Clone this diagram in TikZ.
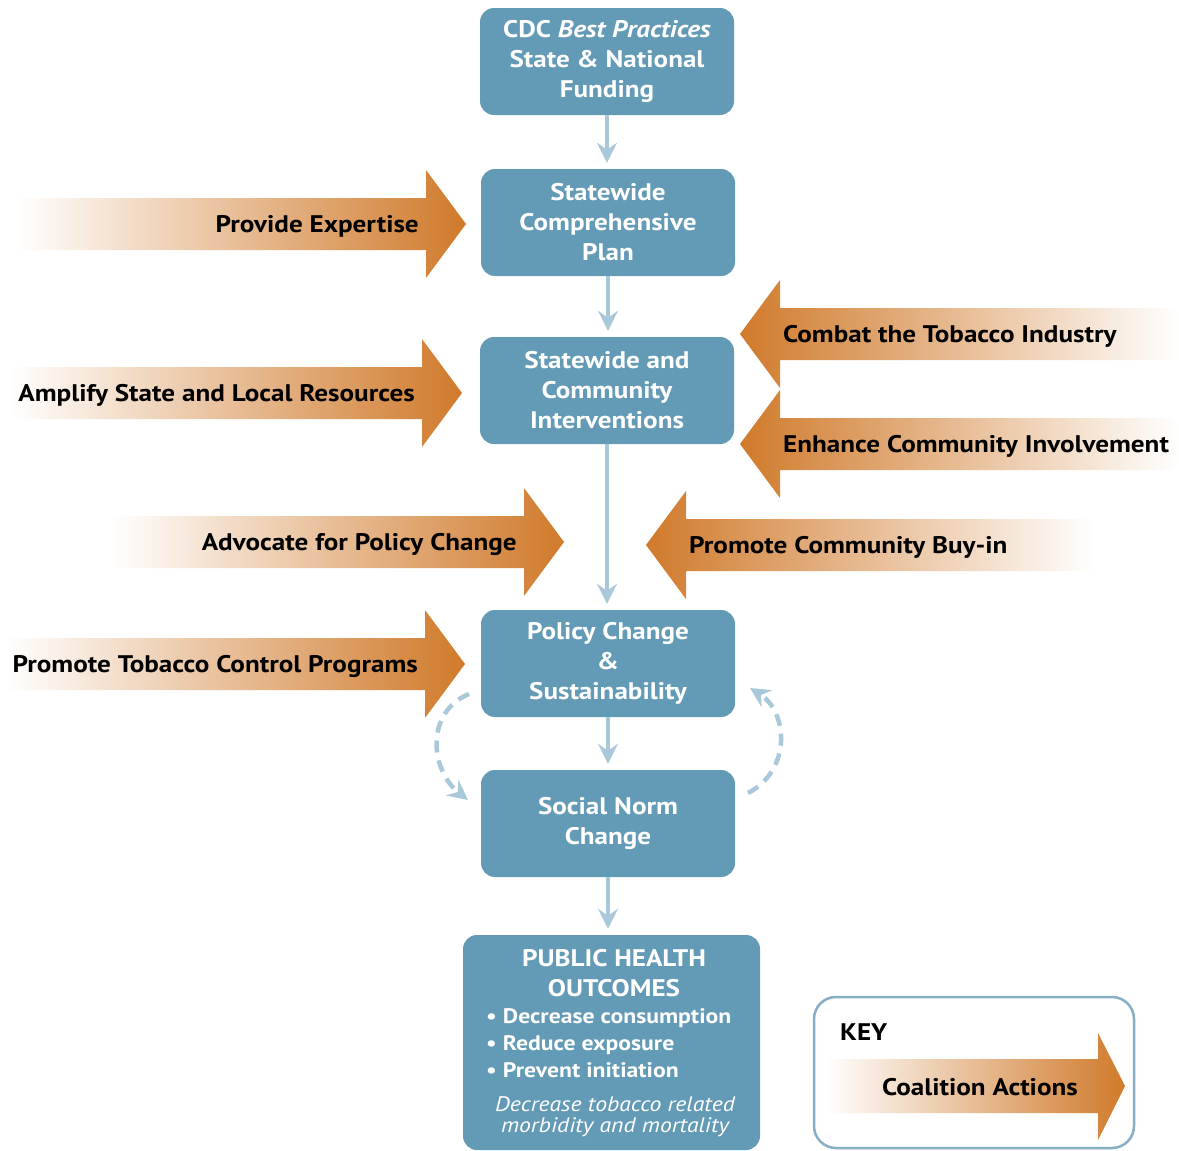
\documentclass[tikz,border=0pt]{standalone}
\usepackage{fontspec}
\setmainfont[FakeStretch=1.13]{PT Sans}
\usetikzlibrary{arrows.meta}

\definecolor{boxblue}{HTML}{639AB6}
\definecolor{flowblue}{HTML}{A9C9DB}
\definecolor{coalorange}{HTML}{D07A2B}
\definecolor{keyborder}{HTML}{88AEC5}

\begin{document}
\begin{tikzpicture}[x=1pt,y=-1pt,
    stepbox/.style={fill=boxblue, rounded corners=14pt, minimum width=254pt, minimum height=107pt,
      text=white, font=\fontsize{24}{30}\selectfont\bfseries, align=center, inner sep=0pt},
    flow/.style={draw=flowblue, line width=4.5pt, -{Stealth[length=20pt,width=20pt,inset=7pt]}, shorten >=6pt},
    loopflow/.style={flow, dash pattern=on 12pt off 8pt, shorten >=0pt},
    actlabel/.style={font=\fontsize{24}{30}\selectfont\bfseries, inner sep=0pt}
  ]
  \useasboundingbox (0,0) rectangle (1179,1151);

  % coalition actions, pointing right
  \foreach \tl/\tp/\yy/\txt/\nm in {15/466/224/Provide Expertise/expert,
      10/462/393/Amplify State and Local Resources/amplify,
      110/564/542/Advocate for Policy Change/advocate,
      5/465/664/Promote Tobacco Control Programs/programs}{
    \shade[left color=white, right color=coalorange]
      (\tl,\yy-26) -- (\tp-40,\yy-26) -- (\tp-40,\yy-54) -- (\tp,\yy)
      -- (\tp-40,\yy+54) -- (\tp-40,\yy+26) -- (\tl,\yy+26) -- cycle;
    \node[actlabel, anchor=base east] (\nm) at (\tp-47,\yy+8) {\txt};
  }
  % coalition actions, pointing left
  \foreach \tl/\tp/\yy/\txt/\nm in {1179/740/334/Combat the Tobacco Industry/combat,
      1179/740/444/Enhance Community Involvement/enhance,
      1095/646/545/Promote Community Buy-in/buyin}{
    \shade[left color=coalorange, right color=white]
      (\tl,\yy-26) -- (\tp+40,\yy-26) -- (\tp+40,\yy-54) -- (\tp,\yy)
      -- (\tp+40,\yy+54) -- (\tp+40,\yy+26) -- (\tl,\yy+26) -- cycle;
    \node[actlabel, anchor=base west] (\nm) at (\tp+43,\yy+8) {\txt};
  }

  % main steps
  \node[stepbox] (cdc) at (607,61.5) {CDC \textit{Best Practices}\\State \& National\\Funding};
  \node[stepbox] (plan) at (608,222.5) {Statewide\\Comprehensive\\Plan};
  \node[stepbox] (interv) at (607,390.5) {Statewide and\\Community\\Interventions};
  \node[stepbox] (policy) at (608,663.5) {Policy Change\\\&\\Sustainability};
  \node[stepbox] (social) at (608,823.5) {Social Norm\\Change};
  \node[stepbox, minimum width=297pt, minimum height=215pt] (outcome) at (611.5,1042.5) {};
  \node[stepbox, fill=none, minimum width=0pt, minimum height=0pt] (outtitle) at (614,973) {PUBLIC HEALTH\\OUTCOMES};
  \node[text=white, font=\fontsize{21}{27}\selectfont\bfseries, align=left, inner sep=0pt, anchor=west] (outlist) at (486,1043)
    {• Decrease consumption\\• Reduce exposure\\• Prevent initiation};
  \node[text=white, font=\fontsize{21}{21}\selectfont\itshape, align=center, inner sep=0pt] (outnote) at (615,1117)
    {Decrease tobacco related\\morbidity and mortality};

  \draw[flow] (cdc.south) -- (cdc.south |- plan.north);
  \draw[flow] (plan.south) -- (plan.south |- interv.north);
  \draw[flow] (interv.south) -- (interv.south |- policy.north);
  \draw[flow] (policy.south) -- (policy.south |- social.north);
  \draw[flow] (social.south) -- (social.south |- outcome.north);

  % feedback loop
  \coordinate (lstart) at (469,694);
  \coordinate (lend) at (468,800);
  \coordinate (rstart) at (748,793);
  \coordinate (rend) at (750,688);
  \draw[loopflow] (lstart) .. controls (425,712) and (430,770) .. (lend);
  \draw[loopflow] (rstart) .. controls (792,770) and (788,712) .. (rend);

  % key
  \node[draw=keyborder, fill=white, line width=2.5pt, rounded corners=22pt, minimum width=320pt, minimum height=151pt] (key) at (974,1072.5) {};
  \node[actlabel, anchor=base west] (keytitle) at (840,1040) {KEY};
  \shade[left color=white, right color=coalorange]
    (825,1059) -- (1098,1059) -- (1098,1033) -- (1125,1086)
    -- (1098,1140) -- (1098,1113) -- (825,1113) -- cycle;
  \node[actlabel, anchor=base east] (keyaction) at (1078,1095) {Coalition Actions};
\end{tikzpicture}
\end{document}
